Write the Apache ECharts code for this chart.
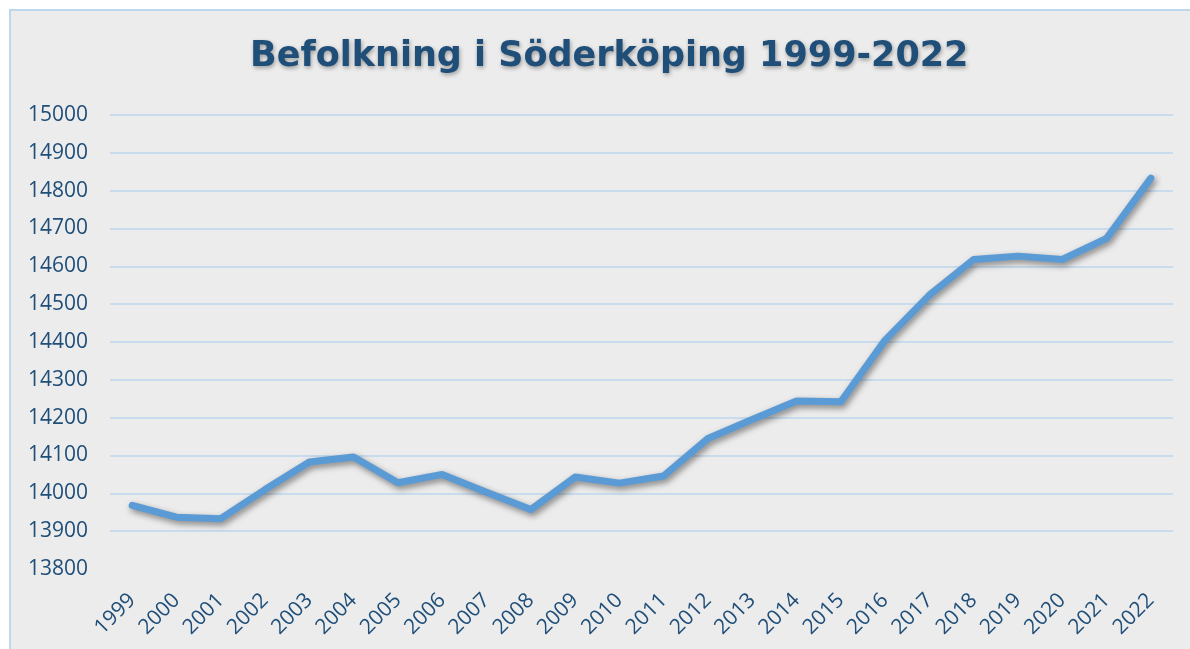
<!DOCTYPE html>
<html><head><meta charset="utf-8">
<script src="https://cdn.jsdelivr.net/npm/echarts@6/dist/echarts.min.js"></script>
<style>html,body{margin:0;padding:0;background:#fff;}#c{width:1190px;height:649px;}</style>
</head><body><div id="c"></div>
<script>
const titleText = 'Befolkning i Söderköping 1999-2022';
const years = ['1999','2000','2001','2002','2003','2004','2005','2006','2007','2008','2009','2010','2011','2012','2013','2014','2015','2016','2017','2018','2019','2020','2021','2022'];
const population = [13968,13937,13933,14010,14083,14096,14028,14050,14003,13957,14043,14027,14046,14145,14195,14244,14242,14405,14524,14618,14627,14618,14674,14833];
const yMin = 13800, yMax = 15000, yStep = 100;

const chart = echarts.init(document.getElementById('c'));
const textColor = '#1f4e79';
chart.setOption({
  animation: false,
  backgroundColor: '#ffffff',
  graphic: [{
    type: 'rect', z: -10, silent: true,
    shape: {x: 10, y: 10, width: 1200, height: 660},
    style: {fill: '#ececec', stroke: '#bdd7ee', lineWidth: 2}
  }],
  title: {
    text: titleText, left: 245, top: 34,
    textStyle: {
      fontFamily: 'DejaVu Sans', fontWeight: 'bold', fontSize: 35, color: textColor,
      textShadowColor: 'rgba(0,0,0,0.35)', textShadowBlur: 4, textShadowOffsetX: 1, textShadowOffsetY: 2
    }
  },
  grid: {left: 110, right: 17, top: 115, bottom: 80, containLabel: false},
  xAxis: {
    type: 'category', data: years, boundaryGap: true,
    axisLine: {show: false}, axisTick: {show: false},
    axisLabel: {rotate: 45, color: textColor, fontFamily: 'Open Sans', fontSize: 21, margin: 28, interval: 0}
  },
  yAxis: {
    type: 'value', min: yMin, max: yMax, interval: yStep,
    axisLine: {show: false}, axisTick: {show: false},
    axisLabel: {color: textColor, fontFamily: 'Open Sans', fontSize: 21, margin: 22, formatter: v => String(v)},
    splitLine: {lineStyle: {color: '#bdd7ee', width: 1.5}, showMinLine: false}
  },
  series: [{
    type: 'line', data: population, symbol: 'none',
    lineStyle: {color: '#5b9bd5', width: 7, cap: 'round', join: 'round',
      shadowColor: 'rgba(0,0,0,0.45)', shadowBlur: 6, shadowOffsetX: 2, shadowOffsetY: 3}
  }]
});
</script></body></html>
